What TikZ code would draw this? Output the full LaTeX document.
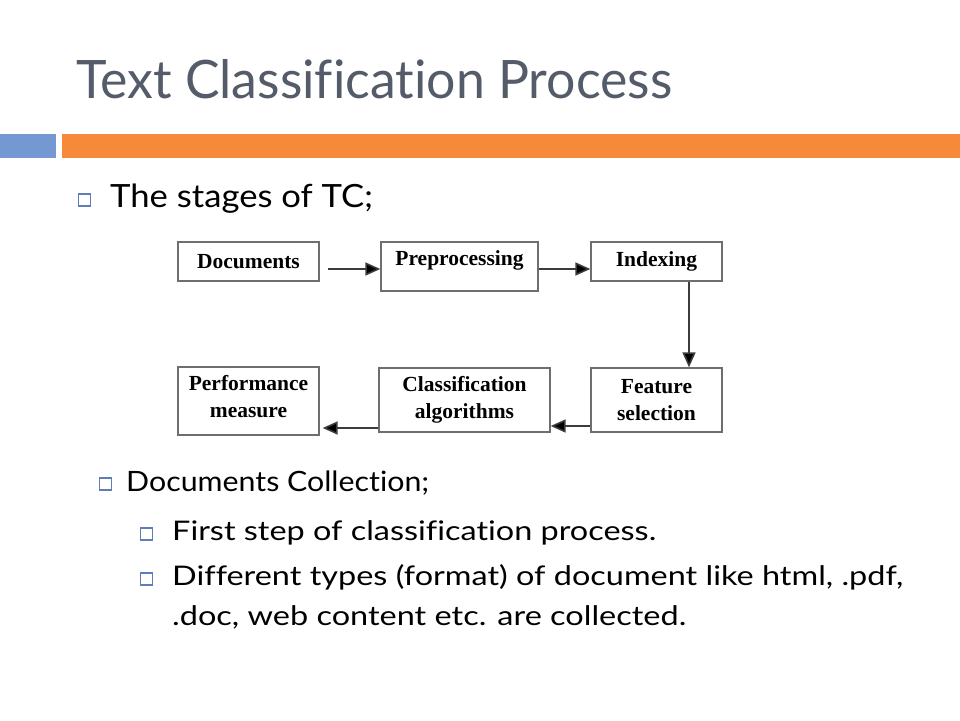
\documentclass[tikz,border=0pt]{standalone}
\usepackage{fontspec}
\usepackage{graphicx}
\setmainfont{Lato}[Ligatures={NoCommon,NoContextual,NoRare}]
\newfontfamily\diagfont{Liberation Serif}
\usetikzlibrary{arrows.meta,calc}
\definecolor{titlegray}{RGB}{84,91,105}
\definecolor{barblue}{RGB}{116,152,210}
\definecolor{barorange}{RGB}{246,138,58}
\definecolor{bulletblue}{RGB}{95,125,185}
\definecolor{boxgray}{RGB}{110,110,110}
\definecolor{arrowgray}{RGB}{60,60,60}
\newcommand\fitw[2]{\resizebox{#1}{\height}{#2}}
\tikzset{
  stagebox/.style={draw=boxgray, line width=1.3pt, fill=white, inner sep=0pt,
    font=\diagfont\bfseries\fontsize{21.5}{27}\selectfont, align=center},
  flow/.style={draw=arrowgray, line width=1.6pt,
    -{Triangle[length=15pt,width=13pt,fill=black]}},
  bulletsq/.style={draw=bulletblue, line width=1.1pt, fill=white,
    minimum size=12pt, inner sep=0pt},
  bodytext/.style={anchor=base west, inner sep=0pt, text=black}
}
\begin{document}
\begin{tikzpicture}[x=1pt,y=-1pt]
\useasboundingbox (0,0) rectangle (960,720);
\fill[white] (0,0) rectangle (960,720);
% title
\node[anchor=base west, inner sep=0pt, text=titlegray,
  font=\fontsize{53}{60}\selectfont] (title) at (76,98)
  {\fitw{596pt}{Text Classification Process}};
% bars
\fill[barblue] (0,134) rectangle (56,158);
\fill[barorange] (62,134) rectangle (960,158);
% first bullet
\node[bulletsq] (b1) at (84.5,200) {};
\node[bodytext, font=\fontsize{32}{40}\selectfont] (t1) at (110,207)
  {\fitw{263pt}{The stages of TC;}};
% diagram
\node[stagebox, minimum width=141pt, minimum height=39pt] (doc) at (248.5,261.5) {Documents};
\node[stagebox, minimum width=157pt, minimum height=49pt, text depth=16pt] (pre) at (459.5,266.5) {Preprocessing};
\node[stagebox, minimum width=131pt, minimum height=39pt] (idx) at (656.5,261.5) {Indexing};
\node[stagebox, minimum width=131pt, minimum height=64pt] (feat) at (656.5,400) {Feature\\selection};
\node[stagebox, minimum width=171pt, minimum height=64pt] (cls) at (464.5,400) {Classification\\algorithms};
\node[stagebox, minimum width=141pt, minimum height=68pt, text depth=10pt] (perf) at (248.5,401) {Performance\\measure};
\draw[flow] ([shift={(8,7.5)}]doc.east) coordinate (a1) -- (a1 -| pre.west);
\draw[flow] ([shift={(0,2.5)}]pre.east) coordinate (a2) -- (a2 -| idx.west);
\draw[flow] ([shift={(32.5,0)}]idx.south) coordinate (a3) -- (a3 |- feat.north);
\draw[flow] ([shift={(0,26)}]feat.west) coordinate (a4) -- (a4 -| cls.east);
\draw[flow, shorten >=3pt] ([shift={(0,28)}]cls.west) coordinate (a5) -- (a5 -| perf.east);
% lower bullets
\node[bulletsq] (b2) at (105.5,484) {};
\node[bodytext, font=\fontsize{28}{34}\selectfont] (t2) at (126,491)
  {\fitw{303pt}{Documents Collection;}};
\node[bulletsq] (b3) at (146.5,534) {};
\node[bodytext, font=\fontsize{27}{34}\selectfont] (t3) at (172,540)
  {\fitw{484pt}{First step of classification process.}};
\node[bulletsq] (b4) at (146.5,579) {};
\node[bodytext, font=\fontsize{27}{34}\selectfont] (t4) at (172,585)
  {\fitw{731pt}{Different types (format) of document like html, .pdf,}};
\node[bodytext, font=\fontsize{27}{34}\selectfont] (t5) at (172,625)
  {\fitw{514pt}{.doc, web content etc. are collected.}};
\end{tikzpicture}
\end{document}
